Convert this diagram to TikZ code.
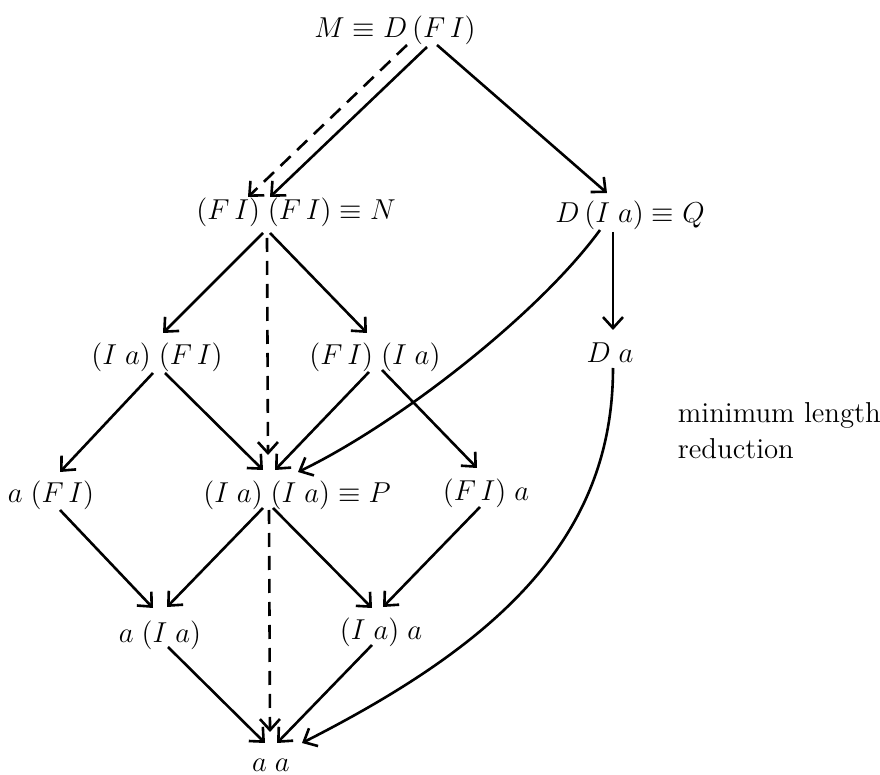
\documentclass[tikz,border=0pt]{standalone}
\usetikzlibrary{arrows.meta, calc}
\tikzset{
  every picture/.style={line width=1.3pt},
  term/.style={inner sep=0pt, font=\Large},
  arrow/.style={-{Straight Barb[length=5.5pt, width=10pt]}},
  shortest/.style={arrow, dash pattern=on 7pt off 4.5pt},
  note/.style={font=\Large, align=left, anchor=west},
}
\begin{document}
\begin{tikzpicture}[x=0.5pt, y=-0.5pt]
  \useasboundingbox (0,0) rectangle (880,775);
  % terms
  \node[term] (M) at (395,30) {$M \equiv D\,(F\,I)$};
  \node[term] (N) at (296,212) {$(F\,I)\;(F\,I) \equiv N$};
  \node[term] (Q) at (630,215) {$D\,(I\;a) \equiv Q$};
  \node[term] (IaFI) at (157,357) {$(I\;a)\;(F\,I)$};
  \node[term] (FIIa) at (375,357) {$(F\,I)\;(I\;a)$};
  \node[term] (Da) at (610,353) {$D\;a$};
  \node[term] (aFI) at (51,495) {$a\;(F\,I)$};
  \node[term] (P) at (297,495) {$(I\;a)\;(I\;a) \equiv P$};
  \node[term] (FIa) at (486,493) {$(F\,I)\;a$};
  \node[term] (aIa) at (160,635) {$a\;(I\;a)$};
  \node[term] (Iaa) at (381,632) {$(I\;a)\;a$};
  \node[term] (aa) at (271,765) {$a\;a$};
  \node[note] (txt) at (670,431) {minimum length\\reduction};
  % one-step reductions
  \foreach \a/\da/\b/\db in {M/{32,17}/N/{-26,-15}, M/{42,15}/Q/{-23,-22},
    N/{-33,21}/IaFI/{6,-24}, N/{-26,21}/FIIa/{-8,-24}, Q/{-17,17}/Da/{3,-23},
    IaFI/{-4,16}/aFI/{9,-23}, IaFI/{8,16}/P/{-34,-25},
    FIIa/{-6,15}/P/{-22,-25}, FIIa/{7,13}/FIa/{-9,-25},
    aFI/{9,15}/aIa/{-7,-27}, P/{-34,13}/aIa/{7,-28}, P/{-24,13}/Iaa/{-9,-24},
    FIa/{-6,14}/Iaa/{2,-25}, aIa/{8,12}/aa/{-6,-22}, Iaa/{-9,13}/aa/{6,-22}}
    \draw[arrow] ($(\a)+(\da)$) -- ($(\b)+(\db)$);
  \draw[arrow] ($(Q)+(-30,15)$) .. controls ($(Q)+(-92,100)$) and ($(P)+(99,-70)$) .. ($(P)+(1,-23)$);
  \draw[arrow] ($(Da)+(3,15)$) .. controls ($(Da)+(3,187)$) and ($(aa)+(224,-120)$) .. ($(aa)+(31,-22)$);
  % minimum length reduction
  \foreach \a/\da/\b/\db in {M/{12,15}/N/{-48,-15}, N/{-29,26}/P/{-29,-40},
    P/{-28,15}/aa/{-1,-33}}
    \draw[shortest] ($(\a)+(\da)$) -- ($(\b)+(\db)$);
\end{tikzpicture}
\end{document}
